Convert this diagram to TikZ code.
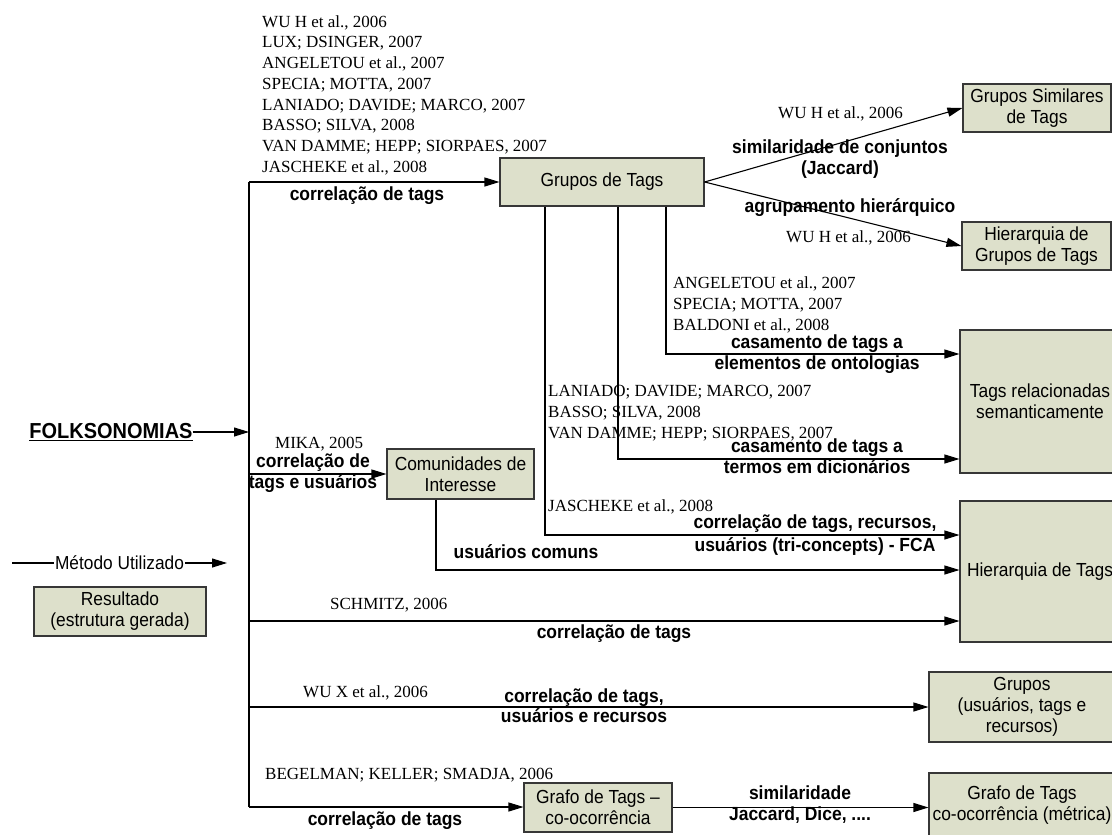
\documentclass[tikz,border=0pt]{standalone}
\usepackage{fontspec}
\setmainfont{Liberation Serif}
\setsansfont{Liberation Sans}[FakeStretch=0.92]
\usetikzlibrary{arrows.meta}
\definecolor{boxfill}{RGB}{221,224,203}
\definecolor{boxline}{RGB}{55,55,55}
\begin{document}
\begin{tikzpicture}[x=1pt,y=-1pt,
  conn/.style={line width=1.1pt,draw=black},
  arr/.style={conn,-{Triangle[length=15pt,width=9pt]}},
  box/.style={draw=boxline,fill=boxfill,line width=1.1pt,inner sep=0pt,align=center,
    font=\sffamily\fontsize{18.9}{21}\selectfont},
  meth/.style={font=\sffamily\bfseries\fontsize{19}{21}\selectfont,anchor=base,inner sep=0pt},
  ref/.style={font=\rmfamily\fontsize{17}{20.7}\selectfont,anchor=base west,inner sep=0pt},
]
\useasboundingbox (0,0) rectangle (1112,835);
\clip (0,0) rectangle (1112,835);

% result boxes
\node[box,minimum width=204pt,minimum height=48pt] (gt) at (602,182) {Grupos de Tags};
\node[box,minimum width=148pt,minimum height=48pt] (gs) at (1037,108) {Grupos Similares\\de Tags};
\node[box,minimum width=149pt,minimum height=48pt] (hg) at (1036.5,246) {Hierarquia de\\Grupos de Tags};
\node[box,minimum width=160pt,minimum height=143pt] (tr) at (1040,401.5) {Tags relacionadas\\semanticamente};
\node[box,minimum width=147pt,minimum height=50pt] (ci) at (460.5,474) {Comunidades de\\Interesse};
\node[box,minimum width=160pt,minimum height=141pt] (ht) at (1040,571.5) {Hierarquia de Tags};
\node[box,minimum width=186pt,minimum height=70pt] (gr) at (1022,707) {Grupos\\(usuários, tags e\\recursos)};
\node[box,minimum width=148pt,minimum height=49pt] (gf) at (598,807.5) {Grafo de Tags –\\co-ocorrência};
\node[box,minimum width=186pt,minimum height=64pt] (gm) at (1022,805) {Grafo de Tags\\co-ocorrência (métrica)};
\node[box,minimum width=172pt,minimum height=49pt] (res) at (120,611.5) {Resultado\\(estrutura gerada)};

% root
\node[font=\sffamily\bfseries\fontsize{21.7}{24}\selectfont,inner sep=0pt] (fk) at (111,432) {\underline{FOLKSONOMIAS}};

% trunk and branches
\coordinate (ttop) at (249,182);
\coordinate (tbot) at (249,807);
\coordinate (tf) at (249,432);
\coordinate (tc) at (249,474);
\coordinate (k1) at (666,354);
\coordinate (k2) at (618,459);
\coordinate (k3) at (545,535);
\coordinate (k4) at (436,570);
\coordinate (k5) at (249,621);
\coordinate (k6) at (249,707);

\draw[conn] (ttop) -- (tbot);
\draw[arr] (fk.east |- tf) -- (tf);
\draw[arr] (ttop) -- (gt.west);
\draw[arr] (tc) -- (ci.west);
\draw[arr] (gt.east) -- (gs.west);
\draw[arr] (gt.east) -- (hg.west);
\draw[arr] (gt.south -| k1) |- (tr.west |- k1);
\draw[arr] (gt.south -| k2) |- (tr.west |- k2);
\draw[arr] (gt.south -| k3) |- (ht.west |- k3);
\draw[arr] (ci.south -| k4) |- (ht.west |- k4);
\draw[arr] (k5) -- (ht.west |- k5);
\draw[arr] (k6) -- (gr.west |- k6);
\draw[arr] (tbot) -- (gf.west |- tbot);
\draw[arr] (gf.east) -- (gm.west |- gf.east);

% legend
\coordinate (lg0) at (12,563);
\coordinate (lg1) at (227,563);
\draw[arr] (lg0) -- (lg1) node[pos=0.5,fill=white,inner sep=0.6pt,
  font=\sffamily\fontsize{18.8}{21}\selectfont] (lgt) {Método Utilizado};

% references
\foreach \t [count=\i] in {{WU H et al., 2006},{LUX; DSINGER, 2007},{ANGELETOU et al., 2007},
  {SPECIA; MOTTA, 2007},{LANIADO; DAVIDE; MARCO, 2007},{BASSO; SILVA, 2008},
  {VAN DAMME; HEPP; SIORPAES, 2007},{JASCHEKE et al., 2008}}
  \node[ref] (ra\i) at (262,{27.2+(\i-1)*20.7}) {\t};
\node[ref] (rb) at (778,118.5) {WU H et al., 2006};
\node[ref] (rc) at (786,242.5) {WU H et al., 2006};
\foreach \t [count=\i] in {{ANGELETOU et al., 2007},{SPECIA; MOTTA, 2007},{BALDONI et al., 2008}}
  \node[ref] (rd\i) at (673,{288.5+(\i-1)*21}) {\t};
\foreach \t [count=\i] in {{LANIADO; DAVIDE; MARCO, 2007},{BASSO; SILVA, 2008},{VAN DAMME; HEPP; SIORPAES, 2007}}
  \node[ref] (re\i) at (548,{396.5+(\i-1)*21}) {\t};
\node[ref] (rf) at (548,511.5) {JASCHEKE et al., 2008};
\node[ref] (rg) at (275,448.5) {MIKA, 2005};
\node[ref] (rh) at (330,609.5) {SCHMITZ, 2006};
\node[ref] (ri) at (303,697.5) {WU X et al., 2006};
\node[ref] (rj) at (265,779.5) {BEGELMAN; KELLER; SMADJA, 2006};

% method labels
\node[meth] (m1) at (367,200.5) {correlação de tags};
\node[meth] (m2a) at (840,153.5) {similaridade de conjuntos};
\node[meth] (m2b) at (840,174.5) {(Jaccard)};
\node[meth] (m3) at (850,212.5) {agrupamento hierárquico};
\node[meth] (m4a) at (817,348.5) {casamento de tags a};
\node[meth] (m4b) at (817,369.5) {elementos de ontologias};
\node[meth] (m5a) at (817,452.5) {casamento de tags a};
\node[meth] (m5b) at (817,473.5) {termos em dicionários};
\node[meth] (m6a) at (815,528.5) {correlação de tags, recursos,};
\node[meth] (m6b) at (815,551.5) {usuários (tri-concepts) - FCA};
\node[meth] (m7a) at (313,467.5) {correlação de};
\node[meth] (m7b) at (313,488.5) {tags e usuários};
\node[meth] (m8) at (526,558.5) {usuários comuns};
\node[meth] (m9) at (614,638.5) {correlação de tags};
\node[meth] (m10a) at (584,702.5) {correlação de tags,};
\node[meth] (m10b) at (584,722.5) {usuários e recursos};
\node[meth] (m11) at (385,825.5) {correlação de tags};
\node[meth] (m12a) at (800,799.5) {similaridade};
\node[meth] (m12b) at (800,820.5) {Jaccard, Dice, ....};
\end{tikzpicture}
\end{document}
